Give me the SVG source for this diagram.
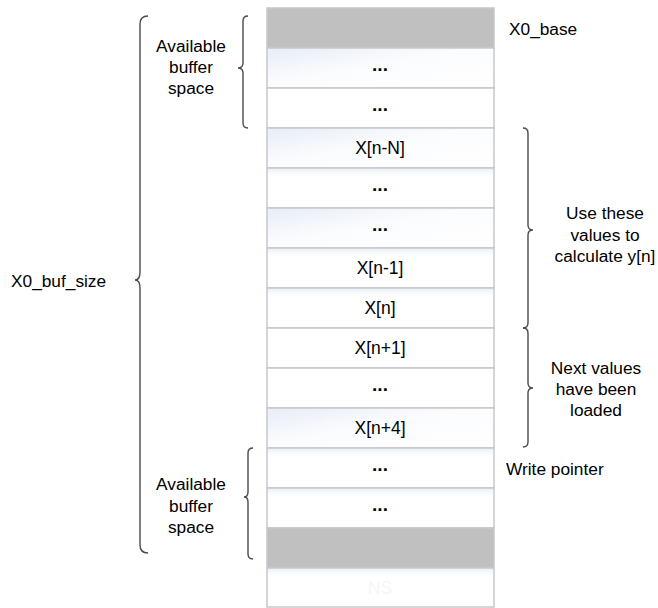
<svg xmlns="http://www.w3.org/2000/svg" width="658" height="608" viewBox="0 0 658 608">
<defs>
<linearGradient id="tint" x1="0" y1="0" x2="1" y2="1">
<stop offset="0" stop-color="#e6edf8"/>
<stop offset="0.45" stop-color="#fbfcfe"/>
<stop offset="1" stop-color="#ffffff"/>
</linearGradient>
<linearGradient id="topglow" x1="0" y1="0" x2="0" y2="1">
<stop offset="0" stop-color="#e9f0f9"/>
<stop offset="0.2" stop-color="#ffffff"/>
<stop offset="1" stop-color="#ffffff"/>
</linearGradient>
</defs>
<style>
.cell{fill:#ffffff;stroke:#c8c8c8;stroke-width:1.5}
.tint{fill:url(#tint)}
.glow{fill:url(#topglow)}
.gray{fill:#c0c0c0;stroke:#c8c8c8;stroke-width:1.5}
.ct{font-family:"Liberation Sans",Arial,sans-serif;font-size:17.5px;fill:#000;text-anchor:middle}
.dots{font-family:"Liberation Sans",Arial,sans-serif;font-size:19px;font-weight:bold;fill:#000;text-anchor:middle}
.lbl{font-family:"Liberation Sans",Arial,sans-serif;font-size:17.3px;fill:#000}
.mid{text-anchor:middle}
.brace{fill:none;stroke:#4a4a4a;stroke-width:1.4}
</style>
<g id="cells">
<g id="row0"><rect class="gray" x="267" y="8" width="227" height="40"/></g>
<g id="row1"><rect class="cell tint" x="267" y="48" width="227" height="40"/><text class="dots" x="380" y="71">...</text></g>
<g id="row2"><rect class="cell" x="267" y="88" width="227" height="40"/><text class="dots" x="380" y="111">...</text></g>
<g id="row3"><rect class="cell tint" x="267" y="128" width="227" height="40"/><text class="ct" x="380" y="154">X[n-N]</text></g>
<g id="row4"><rect class="cell glow" x="267" y="168" width="227" height="40"/><text class="dots" x="380" y="191">...</text></g>
<g id="row5"><rect class="cell tint" x="267" y="208" width="227" height="40"/><text class="dots" x="380" y="231">...</text></g>
<g id="row6"><rect class="cell glow" x="267" y="248" width="227" height="40"/><text class="ct" x="380" y="274">X[n-1]</text></g>
<g id="row7"><rect class="cell glow" x="267" y="288" width="227" height="40"/><text class="ct" x="380" y="314">X[n]</text></g>
<g id="row8"><rect class="cell" x="267" y="328" width="227" height="40"/><text class="ct" x="380" y="354">X[n+1]</text></g>
<g id="row9"><rect class="cell" x="267" y="368" width="227" height="40"/><text class="dots" x="380" y="391">...</text></g>
<g id="row10"><rect class="cell tint" x="267" y="408" width="227" height="40"/><text class="ct" x="380" y="434">X[n+4]</text></g>
<g id="row11"><rect class="cell glow" x="267" y="448" width="227" height="40"/><text class="dots" x="380" y="471">...</text></g>
<g id="row12"><rect class="cell glow" x="267" y="488" width="227" height="40"/><text class="dots" x="380" y="511">...</text></g>
<g id="row13"><rect class="gray" x="267" y="528" width="227" height="40"/></g>
<g id="row14"><rect class="cell glow" x="267" y="568" width="227" height="39"/><text class="ct" x="380" y="594" style="fill:#f4f6fa">NS</text></g>
</g>
<g id="braces">
<path class="brace" d="M148,16 Q140,16 140,24 L140,272 Q140,280 135,280 Q140,280 140,288 L140,545 Q140,553 148,553"/>
<path class="brace" d="M248,16 Q243,16 243,21 L243,63 Q243,68 238,68 Q243,68 243,73 L243,123 Q243,128 248,128"/>
<path class="brace" d="M253,448 Q248,448 248,453 L248,492 Q248,497 244,497 Q248,497 248,502 L248,554 Q248,559 253,559"/>
<path class="brace" d="M523,128 Q528,128 528,133 L528,225 Q528,230 533,230 Q528,230 528,235 L528,323 Q528,328 523,328"/>
<path class="brace" d="M523,328 Q528,328 528,333 L528,383 Q528,388 533,388 Q528,388 528,393 L528,442 Q528,447 523,447"/>
</g>
<g id="labels">
<text class="lbl" x="11" y="287">X0_buf_size</text>
<text class="lbl mid" x="191" y="52">Available</text>
<text class="lbl mid" x="191" y="73">buffer</text>
<text class="lbl mid" x="191" y="94">space</text>
<text class="lbl mid" x="191" y="490">Available</text>
<text class="lbl mid" x="191" y="512">buffer</text>
<text class="lbl mid" x="191" y="533">space</text>
<text class="lbl" x="509" y="35">X0_base</text>
<text class="lbl mid" x="605" y="219">Use these</text>
<text class="lbl mid" x="605" y="241">values to</text>
<text class="lbl mid" x="605" y="262">calculate y[n]</text>
<text class="lbl mid" x="596" y="374">Next values</text>
<text class="lbl mid" x="596" y="395">have been</text>
<text class="lbl mid" x="596" y="416">loaded</text>
<text class="lbl" x="506" y="475">Write pointer</text>
</g>
</svg>
